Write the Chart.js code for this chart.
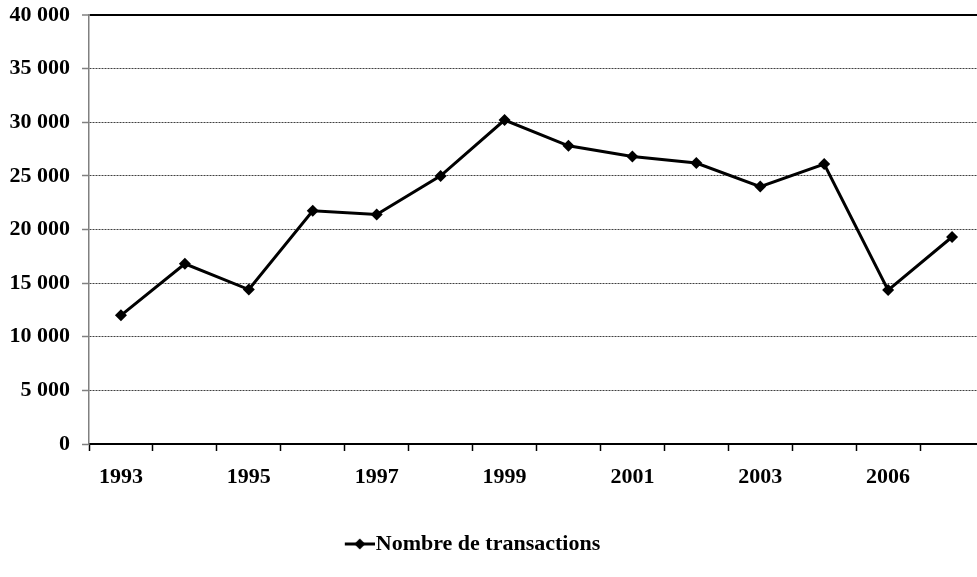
<!DOCTYPE html>
<html>
<head>
<meta charset="utf-8">
<script src="https://cdn.jsdelivr.net/npm/chart.js@4/dist/chart.umd.min.js"></script>
<style>
  html, body { margin: 0; padding: 0; background: #fff; overflow: hidden; }
  #chart { display: block; }
</style>
</head>
<body>
<canvas id="chart" width="990" height="577"></canvas>
<script>
var annees = ["1993", "1994", "1995", "1996", "1997", "1998", "1999",
	"2000", "2001", "2002", "2003", "2005", "2006", "2007"];
var transactions = [12000, 16800, 14400, 21750, 21400, 25000, 30200,
	27800, 26800, 26200, 24000, 26100, 14350, 19300];
var yTicks = [0, 5000, 10000, 15000, 20000, 25000, 30000, 35000, 40000];

var police = { family: "'Liberation Serif', 'Times New Roman', serif", size: 22, weight: 'bold' };

var milliers = function (v) {
	return String(v).replace(/\B(?=(\d{3})+(?!\d))/g, ' ');
};

// petit dessin pour la legende : trait + losange
var legendImg = document.createElement('canvas');
legendImg.width = 40;
legendImg.height = 14;
var lc = legendImg.getContext('2d');
lc.strokeStyle = '#000';
lc.lineWidth = 3;
lc.beginPath();
lc.moveTo(10, 7);
lc.lineTo(40, 7);
lc.stroke();
lc.fillStyle = '#000';
lc.beginPath();
lc.moveTo(25, 1.5);
lc.lineTo(30.5, 7);
lc.lineTo(25, 12.5);
lc.lineTo(19.5, 7);
lc.closePath();
lc.fill();

var legendePlacee = {
	id: 'legendePlacee',
	afterLayout: function (chart) {
		chart.legend.left = 0;
		chart.legend.right = 945;
	}
};

// pas de marge supplementaire pour les etiquettes aux extremites
var sansDebord = function (s) {
	s.paddingTop = 0;
	s.paddingBottom = 0;
	s.paddingLeft = 0;
	s.paddingRight = 0;
};

let ctx = document.getElementById('chart').getContext('2d');
let chart = new Chart(ctx, {
	type: 'line',
	data: {
		labels: annees,
		datasets: [{
			label: 'Nombre de transactions',
			data: transactions,
			borderColor: '#000',
			backgroundColor: '#000',
			borderWidth: 3,
			pointStyle: 'rectRot',
			pointRadius: 6,
			pointBackgroundColor: '#000',
			pointBorderColor: '#000',
			pointBorderWidth: 0,
			tension: 0,
			fill: false
		}]
	},
	options: {
		responsive: false,
		animation: false,
		layout: { padding: { top: 15, right: 3, left: 0, bottom: 12 } },
		plugins: {
			tooltip: { enabled: false },
			legend: {
				position: 'bottom',
				labels: {
					usePointStyle: true,
					pointStyle: legendImg,
					pointStyleWidth: 20,
					padding: 10,
					color: '#000',
					font: police
				}
			}
		},
		scales: {
			x: {
				offset: true,
				grid: {
					offset: true,
					drawOnChartArea: false,
					color: '#000',
					tickLength: 7,
					tickWidth: 1.5
				},
				border: { color: '#000', width: 2 },
				ticks: {
					autoSkip: false,
					maxRotation: 0,
					padding: 13,
					color: '#000',
					font: police,
					callback: function (v, i) { return i % 2 === 0 ? annees[i] : ''; }
				},
				afterFit: function (s) {
					sansDebord(s);
					s.height = 79;
				}
			},
			y: {
				min: 0,
				max: 40000,
				afterBuildTicks: function (s) {
					s.ticks = yTicks.map(function (v) { return { value: v }; });
				},
				grid: {
					color: function (c) {
						if (c.tick && c.tick.value === 40000) return '#000';
						if (c.tick && c.tick.value === 0) return 'rgba(0,0,0,0)';
						return '#404040';
					},
					lineWidth: function (c) { return c.tick && c.tick.value === 40000 ? 2 : 1; },
					tickColor: '#808080',
					tickLength: 7,
					tickWidth: 1.5,
					tickBorderDash: []
				},
				border: {
					color: '#808080',
					width: 1.5,
					dash: function (c) { return c.tick && c.tick.value < 40000 ? [2, 1] : []; }
				},
				ticks: {
					padding: 12,
					color: '#000',
					font: police,
					callback: function (v) { return milliers(v); }
				},
				afterFit: function (s) {
					sansDebord(s);
					s.width = 89;
				}
			}
		}
	},
	plugins: [legendePlacee]
});
</script>
</body>
</html>
